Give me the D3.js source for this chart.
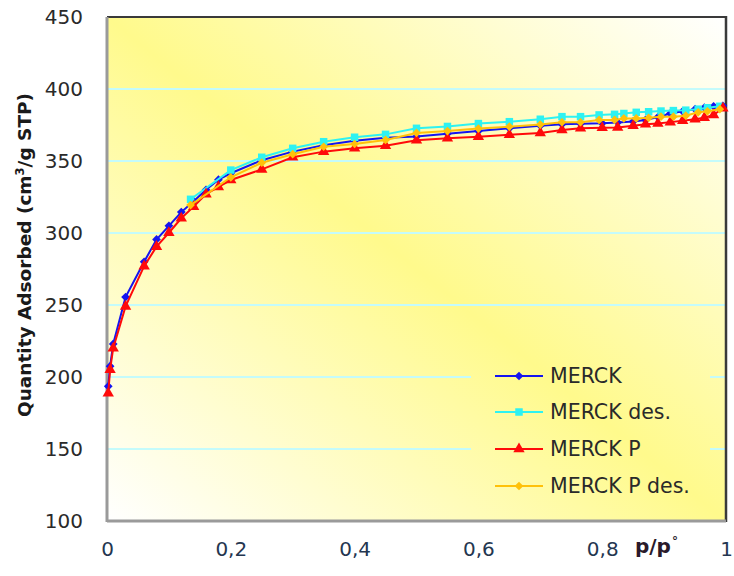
<!DOCTYPE html>
<html>
<head>
<meta charset="utf-8">
<script src="https://cdn.jsdelivr.net/npm/d3@7"></script>
<style>
  body { margin: 0; background: #fff; }
  text { font-family: "DejaVu Sans", Verdana, sans-serif; }
</style>
</head>
<body>
<svg id="chart" width="734" height="576"></svg>
<script>
// Relative pressure points of the adsorption and desorption branches
const adsP = [0.002, 0.005, 0.01, 0.03, 0.06, 0.08, 0.10, 0.12, 0.14, 0.16, 0.18, 0.20,
  0.25, 0.30, 0.35, 0.40, 0.45, 0.50, 0.55, 0.60, 0.65, 0.70, 0.735, 0.765, 0.80,
  0.825, 0.85, 0.87, 0.89, 0.91, 0.93, 0.95, 0.965, 0.98, 0.995];
const desP = [0.99, 0.97, 0.955, 0.935, 0.915, 0.895, 0.875, 0.855, 0.835, 0.82,
  0.795, 0.765, 0.735, 0.70, 0.65, 0.60, 0.55, 0.50, 0.45, 0.40, 0.35, 0.30, 0.25,
  0.20, 0.135];

// Quantity adsorbed, cm3/g STP
const merck = [193.5, 207.5, 223, 255.5, 280, 295.5, 305, 314.5, 322, 330, 337, 341.5,
  350.5, 356.5, 361, 364, 366.2, 367, 369, 370.8, 372.7, 374.5, 375.5, 375.8, 376.2,
  376.8, 377.5, 378.5, 380.5, 383, 384.5, 386, 387, 388, 388.3];
const merckDes = [388, 387, 386, 385.3, 385, 384.7, 384.2, 383.8, 383, 382.4,
  382, 380.8, 380.8, 379, 377.3, 376, 374, 372.7, 368.5, 366.5, 363.4, 358.8, 352.6,
  343.7, 323.4];
const merckP = [188.7, 205, 220, 249, 277, 290.5, 300.2, 310.2, 318.3, 327, 332, 336.8,
  344.2, 352.6, 356.5, 358.8, 360.6, 364.4, 365.8, 366.9, 368.2, 369.5, 371.5, 372.7,
  373.1, 373.3, 374.5, 375.5, 376, 377, 378, 379, 380, 382, 386.6];
const merckPDes = [386, 384.5, 383.8, 381.5, 380.8, 380.8, 380, 379.6, 379.6, 378.5,
  378.5, 376.9, 376.9, 375.3, 373.8, 372.5, 370.8, 369.5, 364.6, 361.8, 359.9, 354.7,
  348.8, 338.7, 319.4];

const seriesNames = ["MERCK", "MERCK des.", "MERCK P", "MERCK P des."];
const yTicks = [100, 150, 200, 250, 300, 350, 400, 450];
const xTicks = [0, 0.2, 0.4, 0.6, 0.8, 1];

const series = [
  { name: seriesNames[0], p: adsP, v: merck, color: "#1414f0", shape: "diamond" },
  { name: seriesNames[1], p: desP, v: merckDes, color: "#2ef2f2", shape: "square" },
  { name: seriesNames[2], p: adsP, v: merckP, color: "#ff0a0a", shape: "triangle" },
  { name: seriesNames[3], p: desP, v: merckPDes, color: "#ffc10a", shape: "diamond" }
];

const svg = d3.select("#chart");
const plot = { left: 107, right: 726, top: 17, bottom: 521 };

const x = d3.scaleLinear().domain([0, 1]).range([plot.left, plot.right]);
const y = d3.scaleLinear().domain([100, 450]).range([plot.bottom, plot.top]);

// Plot-area fill: diagonal gradient, pale at two corners, yellow along the other diagonal
const defs = svg.append("defs");
const grad = defs.append("linearGradient").attr("id", "plotFill")
  .attr("x1", 0).attr("y1", 1).attr("x2", 1).attr("y2", 0);
grad.append("stop").attr("offset", "0%").attr("stop-color", "#ffffff");
grad.append("stop").attr("offset", "50%").attr("stop-color", "#fffa8c");
grad.append("stop").attr("offset", "100%").attr("stop-color", "#ffffff");

const legendBox = { x: 471, y: 355, w: 239, h: 150 };
defs.append("clipPath").attr("id", "legendClip")
  .append("rect").attr("x", legendBox.x).attr("y", legendBox.y)
  .attr("width", legendBox.w).attr("height", legendBox.h);

svg.append("rect")
  .attr("x", plot.left).attr("y", plot.top)
  .attr("width", plot.right - plot.left).attr("height", plot.bottom - plot.top)
  .attr("fill", "url(#plotFill)");

// Horizontal gridlines
svg.append("g").selectAll("line")
  .data(yTicks.filter(t => t > 100 && t < 450))
  .join("line")
  .attr("x1", plot.left).attr("x2", plot.right)
  .attr("y1", d => y(d)).attr("y2", d => y(d))
  .attr("stroke", "#c4fbfb").attr("stroke-width", 2);

// Legend background repeats the plot fill so gridlines stop at its edge
svg.append("rect")
  .attr("x", plot.left).attr("y", plot.top)
  .attr("width", plot.right - plot.left).attr("height", plot.bottom - plot.top)
  .attr("fill", "url(#plotFill)")
  .attr("clip-path", "url(#legendClip)");

// Plot border
svg.append("line").attr("x1", plot.left).attr("x2", plot.right)
  .attr("y1", plot.top).attr("y2", plot.top)
  .attr("stroke", "#3a3a3a").attr("stroke-width", 2);
svg.append("line").attr("x1", plot.right).attr("x2", plot.right)
  .attr("y1", plot.top - 1).attr("y2", plot.bottom + 1)
  .attr("stroke", "#3a3a3a").attr("stroke-width", 2.5);
svg.append("line").attr("x1", plot.left).attr("x2", plot.left)
  .attr("y1", plot.top).attr("y2", plot.bottom + 1)
  .attr("stroke", "#9a9a9a").attr("stroke-width", 3);
svg.append("line").attr("x1", plot.left).attr("x2", plot.right)
  .attr("y1", plot.bottom).attr("y2", plot.bottom)
  .attr("stroke", "#9a9a9a").attr("stroke-width", 3);

// Axes (labels only, no tick marks)
const yAxis = d3.axisLeft(y).tickValues(yTicks).tickSize(0).tickPadding(0);
const gy = svg.append("g").attr("transform", `translate(${plot.left - 24},0)`).call(yAxis);
gy.select(".domain").remove();
gy.selectAll("text").attr("font-size", 20).attr("fill", "#2a2a2a")
  .attr("font-family", "DejaVu Sans, sans-serif");

const fmt = d => d === 0 || d === 1 ? String(d) : d3.format(".1f")(d).replace(".", ",");
const xAxis = d3.axisBottom(x).tickValues(xTicks).tickFormat(fmt).tickSize(0).tickPadding(0);
const gx = svg.append("g").attr("transform", `translate(0,${plot.bottom + 21})`).call(xAxis);
gx.select(".domain").remove();
gx.selectAll("text").attr("font-size", 20).attr("fill", "#243650")
  .attr("font-family", "DejaVu Sans, sans-serif");

// Axis titles
svg.append("text")
  .attr("transform", "translate(31,255) rotate(-90)")
  .attr("text-anchor", "middle")
  .attr("font-size", 18.5).attr("font-weight", "bold").attr("fill", "#1a1a1a")
  .html('Quantity Adsorbed (cm<tspan dy="-7" font-size="11.5">3</tspan><tspan dy="7">/g STP)</tspan>');

svg.append("text")
  .attr("x", 635).attr("y", 553)
  .attr("font-size", 20).attr("font-weight", "bold").attr("fill", "#2a1a2a")
  .html('p/p<tspan dx="1" dy="-8" font-size="12">°</tspan>');

// Series lines and markers
const symbolFor = shape => {
  if (shape === "square") return d3.symbol(d3.symbolSquare, 56)();
  if (shape === "triangle") return d3.symbol(d3.symbolTriangle, 56)();
  return d3.symbol(d3.symbolSquare, 38)();
};
const rotFor = shape => shape === "diamond" ? " rotate(45)" : "";

const line = d3.line().x(d => x(d[0])).y(d => y(d[1]));

series.forEach(s => {
  const pts = s.p.map((p, i) => [p, s.v[i]]);
  const g = svg.append("g");
  g.append("path").datum(pts)
    .attr("d", line).attr("fill", "none")
    .attr("stroke", s.color).attr("stroke-width", 2);
  g.selectAll("path.mk").data(pts).join("path").attr("class", "mk")
    .attr("d", symbolFor(s.shape))
    .attr("transform", d => `translate(${x(d[0])},${y(d[1])})${rotFor(s.shape)}`)
    .attr("fill", s.color);
});

// Legend
const legRows = [376, 412, 449, 486];
const lg = svg.append("g");
series.forEach((s, i) => {
  const yy = legRows[i];
  lg.append("line").attr("x1", 495).attr("x2", 543).attr("y1", yy).attr("y2", yy)
    .attr("stroke", s.color).attr("stroke-width", 2);
  lg.append("path").attr("d", symbolFor(s.shape))
    .attr("transform", `translate(519,${yy})${rotFor(s.shape)}`)
    .attr("fill", s.color);
  lg.append("text").attr("x", 550).attr("y", yy + 7)
    .attr("font-size", 20.5).attr("fill", "#2a2a2a").text(s.name);
});
</script>
</body>
</html>
